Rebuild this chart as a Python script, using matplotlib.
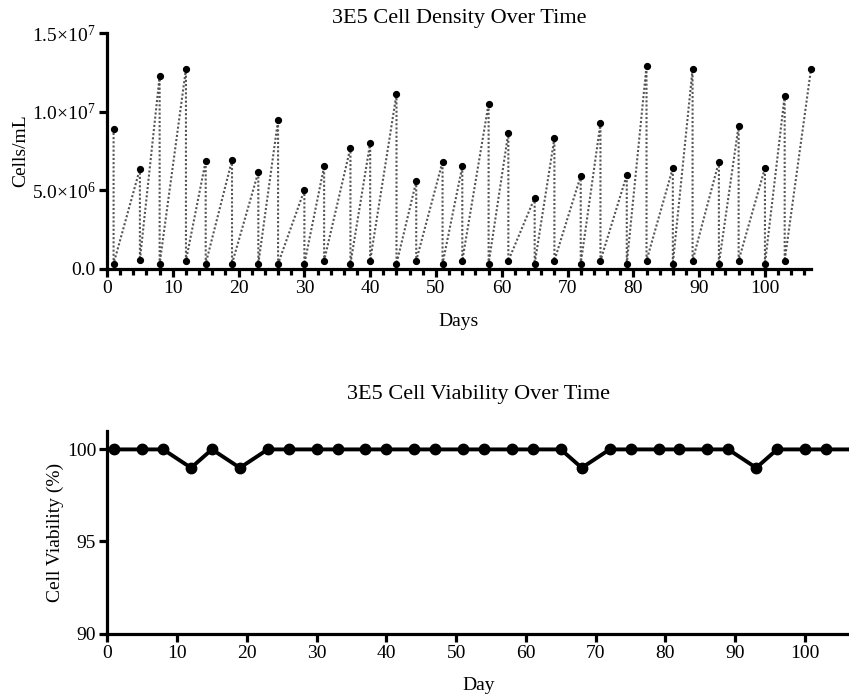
import numpy as np
import matplotlib
matplotlib.use("Agg")
import matplotlib.pyplot as plt
from matplotlib.ticker import FuncFormatter

plt.rcParams['font.family'] = ['Liberation Serif', 'DejaVu Serif']
plt.rcParams['mathtext.fontset'] = 'custom'
plt.rcParams['mathtext.rm'] = 'Liberation Serif'
plt.rcParams['mathtext.it'] = 'Liberation Serif:italic'

# ---- data: cell density ----
split_days = [1, 5, 8, 12, 15, 19, 23, 26, 30, 33, 37, 40, 44, 47, 51, 54, 58, 61,
              65, 68, 72, 75, 79, 82, 86, 89, 93, 96, 100, 103, 107]
peak_density = [8.9e6, 6.35e6, 12.25e6, 12.7e6, 6.85e6, 6.9e6, 6.15e6, 9.45e6, 5.0e6,
                6.5e6, 7.7e6, 8.0e6, 11.1e6, 5.55e6, 6.8e6, 6.5e6, 10.5e6, 8.65e6,
                4.5e6, 8.3e6, 5.9e6, 9.25e6, 5.95e6, 12.9e6, 6.4e6, 12.7e6, 6.8e6,
                9.1e6, 6.4e6, 11.0e6, 12.7e6]
seed_density = [3e5, 5.5e5, 3e5, 5e5, 3e5, 3e5, 3e5, 3e5, 3e5, 5e5, 3e5, 5e5, 3e5, 5e5,
                3e5, 5e5, 3e5, 5e5, 3e5, 5e5, 3e5, 5e5, 3e5, 5e5, 3e5, 5e5, 3e5, 5e5,
                3e5, 5e5]

# ---- data: viability ----
via_days = [1, 5, 8, 12, 15, 19, 23, 26, 30, 33, 37, 40, 44, 47, 51, 54, 58, 61,
            65, 68, 72, 75, 79, 82, 86, 89, 93, 96, 100, 103, 107]
viability = [100, 100, 100, 99, 100, 99, 100, 100, 100, 100, 100, 100, 100, 100, 100,
             100, 100, 100, 100, 99, 100, 100, 100, 100, 100, 100, 99, 100, 100, 100, 100]

# interleave peak / seed to build the passage trace
xs, ys = [], []
for i, d in enumerate(split_days):
    xs.append(d); ys.append(peak_density[i])
    if i < len(seed_density):
        xs.append(d); ys.append(seed_density[i])

W, H = 849, 696
fig = plt.figure(figsize=(W / 100, H / 100), dpi=100)

def frac(l, t, r, b):
    return [l / W, 1 - b / H, (r - l) / W, (b - t) / H]

lw_sp = 2.3
tick_fs = 14

# ---------- top plot ----------
ax1 = fig.add_axes(frac(107, 33, 811, 268.5))
ax1.plot(xs, ys, linestyle=(0, (1, 1)), color='#555555', lw=1.5, zorder=2, clip_on=False)
ax1.plot(xs, ys, linestyle='none', marker='o', ms=4.2, color='black', zorder=3, clip_on=False)
ax1.set_xlim(0, 107)
ax1.set_ylim(0, 1.5e7)
ax1.set_yticks([0, 5e6, 1e7, 1.5e7])

def sci(v, pos):
    if v == 0:
        return '0.0'
    e = int(np.floor(np.log10(v)))
    m = v / 10 ** e
    return r'%.1f$\times$10$^{%d}$' % (m, e)

ax1.yaxis.set_major_formatter(FuncFormatter(sci))
ax1.set_xticks(np.arange(0, 101, 10))
ax1.set_xticks(np.arange(0, 107, 2), minor=True)
ax1.set_title('3E5 Cell Density Over Time', fontsize=16, pad=7)
ax1.set_xlabel('Days', fontsize=14, labelpad=12)
ax1.set_ylabel('Cells/mL', fontsize=14, labelpad=2)

# ---------- bottom plot ----------
ax2 = fig.add_axes(frac(107.3, 431, 849, 633.5))
ax2.plot(via_days, viability, color='black', lw=2.8, marker='o', ms=7.5, zorder=3)
ax2.set_xlim(0, 106.3)
ax2.set_ylim(90, 101)
ax2.set_yticks([90, 95, 100])
ax2.set_xticks(np.arange(0, 101, 10))
ax2.set_title('3E5 Cell Viability Over Time', fontsize=16, x=0.5, pad=23)
ax2.set_xlabel('Day', fontsize=14, labelpad=11)
ax2.set_ylabel('Cell Viability (%)', fontsize=14, labelpad=2)

for ax in (ax1, ax2):
    for s in ('top', 'right'):
        ax.spines[s].set_visible(False)
    for s in ('left', 'bottom'):
        ax.spines[s].set_linewidth(lw_sp)
    ax.tick_params(which='major', direction='out', length=6, width=lw_sp,
                   labelsize=tick_fs, pad=2)
    ax.tick_params(which='minor', direction='out', length=4, width=lw_sp)

fig.savefig('out.png', dpi=100)
